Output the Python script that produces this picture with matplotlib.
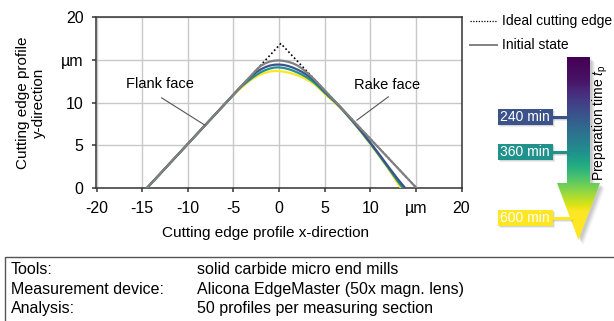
import numpy as np
import matplotlib
matplotlib.use("Agg")
import matplotlib.pyplot as plt
from matplotlib.patches import Polygon, Rectangle
from matplotlib.lines import Line2D

plt.rcParams['font.family'] = ['Liberation Sans', 'DejaVu Sans']
plt.rcParams['mathtext.fontset'] = 'custom'
plt.rcParams['mathtext.rm'] = 'Liberation Sans'
plt.rcParams['mathtext.it'] = 'Liberation Sans:italic'

# ---- profile data (µm) ----
ideal_x = [-14.5, 0.2, 15.1]
ideal_y = [0.0, 16.9, 0.0]

initial_x = [-14.5, -2.5, -2.0, -1.5, -1.0, -0.5, 0.0, 0.5, 1.0, 1.5, 2.0, 2.5, 3.0, 3.5, 4.0, 15.1]
initial_y = [0.0, 13.8, 14.3, 14.6, 14.8, 14.9, 14.93, 14.87, 14.77, 14.6, 14.35, 14.0, 13.55, 13.1, 12.58, 0.0]

t240_x = [-14.5, -4.0, -3.5, -3.0, -2.5, -2.0, -1.5, -1.0, -0.5, 0.0, 0.5, 1.0, 1.5, 2.0, 2.5, 3.0,
          3.5, 4.0, 4.5, 5.0, 5.5, 6.0, 6.5, 7.0, 8.0, 9.0, 10.0, 11.0, 12.0, 13.0, 13.85]
t240_y = [0.0, 12.07, 12.62, 13.1, 13.55, 13.88, 14.15, 14.33, 14.43, 14.45, 14.4, 14.28, 14.1, 13.87,
          13.6, 13.28, 12.9, 12.45, 11.9, 11.33, 10.8, 10.27, 9.72, 9.15, 7.95, 6.7, 5.35, 3.95, 2.5,
          1.1, 0.0]

t360_x = [-14.5, -4.5, -4.0, -3.5, -3.0, -2.5, -2.0, -1.5, -1.0, -0.5, 0.0, 0.5, 1.0, 1.5, 2.0, 2.5,
          3.0, 3.5, 4.0, 4.5, 5.0, 5.5, 6.0, 6.5, 7.0, 8.0, 9.0, 10.0, 11.0, 12.0, 13.0, 13.6]
t360_y = [0.0, 11.5, 11.98, 12.43, 12.85, 13.23, 13.55, 13.8, 13.98, 14.1, 14.12, 14.05, 13.93, 13.75,
          13.53, 13.28, 12.98, 12.63, 12.2, 11.7, 11.17, 10.68, 10.2, 9.68, 9.12, 7.9, 6.62, 5.25,
          3.82, 2.35, 0.85, 0.0]

t600_x = [-14.5, -5.0, -4.5, -4.0, -3.5, -3.0, -2.5, -2.0, -1.5, -1.0, -0.5, 0.0, 0.5, 1.0, 1.5, 2.0,
          2.5, 3.0, 3.5, 4.0, 4.5, 5.0, 5.5, 6.0, 6.5, 7.0, 8.0, 9.0, 10.0, 11.0, 12.0, 13.0, 13.4]
t600_y = [0.0, 10.88, 11.38, 11.86, 12.3, 12.7, 13.03, 13.3, 13.5, 13.63, 13.7, 13.68, 13.62, 13.52,
          13.38, 13.2, 12.99, 12.73, 12.42, 12.03, 11.55, 11.03, 10.55, 10.1, 9.62, 9.08, 7.87, 6.58,
          5.2, 3.75, 2.25, 0.6, 0.0]

x_ticks = [-20, -15, -10, -5, 0, 5, 10, 15, 20]
x_ticklabels = ['-20', '-15', '-10', '-5', '0', '5', '10', 'µm', '20']
y_ticks = [0, 5, 10, 15, 20]
y_ticklabels = ['0', '5', '10', 'µm', '20']

time_labels = ['240 min', '360 min', '600 min']
time_colors = ['#3b528b', '#21918c', '#fde725']
gray = '#808080'
dark = '#333333'

W, H = 614, 321
fig = plt.figure(figsize=(W / 100, H / 100), dpi=100)

ax = fig.add_axes([96.5 / W, 1 - 188.3 / H, 365 / W, 171.3 / H])
ax.set_xlim(-20, 20)
ax.set_ylim(0, 20)
ax.set_xticks(x_ticks)
ax.set_xticklabels(x_ticklabels)
ax.set_yticks(y_ticks)
ax.set_yticklabels(y_ticklabels)
ax.grid(True, color='#c8c8c8', lw=1.0)
ax.set_axisbelow(True)
for s in ax.spines.values():
    s.set_color(dark)
    s.set_linewidth(1.1)
ax.tick_params(direction='out', length=3.2, width=1.1, color=dark, labelsize=11.5,
               labelcolor='black', pad=6)

ax.plot(ideal_x, ideal_y, color='black', lw=1.2, ls=(0, (1, 1.5)), zorder=2)
ax.plot(t600_x, t600_y, color=time_colors[2], lw=1.6, zorder=3)
ax.plot(t360_x, t360_y, color=time_colors[1], lw=1.6, zorder=4)
ax.plot(t240_x, t240_y, color=time_colors[0], lw=1.6, zorder=5)
ax.plot(initial_x, initial_y, color=gray, lw=1.6, zorder=6)

# face annotations
ax.plot([-12.86, -8.13], [10.56, 7.38], color='#555555', lw=0.8, zorder=7)
ax.plot([11.98, 8.54], [10.68, 7.96], color='#555555', lw=0.8, zorder=7)
ax.text(-13.1, 12.15, 'Flank face', ha='center', va='center', fontsize=10.5, zorder=8)
ax.text(11.87, 12.04, 'Rake face', ha='center', va='center', fontsize=10.5, zorder=8)

fig.text(265 / W, 1 - 233 / H, 'Cutting edge profile x-direction', ha='center', va='center',
         fontsize=11)
fig.text(31 / W, 1 - 103 / H, 'Cutting edge profile\ny-direction', ha='center', va='center',
         rotation=90, fontsize=11, linespacing=1.1)

# overlay in pixel coordinates
ov = fig.add_axes([0, 0, 1, 1], zorder=10)
ov.set_xlim(0, W)
ov.set_ylim(H, 0)
ov.axis('off')

# legend
ov.add_line(Line2D([470, 497], [21, 21], color='black', lw=0.9, ls=(0, (1, 1.2))))
ov.add_line(Line2D([470, 497], [45, 45], color=gray, lw=1.4))
ov.text(502, 21, 'Ideal cutting edge', ha='left', va='center', fontsize=10)
ov.text(502, 45, 'Initial state', ha='left', va='center', fontsize=10)

# preparation-time arrow with gradient fill
arrow_pts = [(567, 57), (590, 57), (590, 183), (600, 183), (578.5, 240), (557, 183), (567, 183)]
for k, a in zip(range(1, 5), [0.10, 0.10, 0.08, 0.06]):
    ov.add_patch(Polygon([(x + 1 + k, y + 1 + k) for x, y in arrow_pts], closed=True,
                         fc='#505050', ec='none', alpha=a, zorder=1))
arrow = Polygon(arrow_pts, closed=True, fc='none', ec='none')
ov.add_patch(arrow)
ys = np.linspace(57, 240, 300)
vals = np.interp(ys, [57, 80, 116.7, 151.7, 185, 212, 240], [0.0, 0.05, 0.27, 0.5, 0.78, 1.0, 1.0])
im = ov.imshow(vals[:, None], cmap='viridis', vmin=0, vmax=1, aspect='auto',
               extent=[557, 600, 240, 57], origin='upper', interpolation='bilinear', zorder=3)
im.set_clip_path(arrow)
ov.set_xlim(0, W)
ov.set_ylim(H, 0)

ov.text(600, 123, 'Preparation time $t_\\mathrm{p}$', rotation=90, ha='center', va='center',
        fontsize=10, zorder=6)

# time labels
box_y = [116.5, 151.5, 218]
conn_end = [567, 567, 571]
for lab, col, yc, xe in zip(time_labels, time_colors, box_y, conn_end):
    for k, a in zip(range(1, 3), [0.15, 0.1]):
        ov.add_patch(Rectangle((497.5 + k, yc - 8 + k), 55, 16, fc='#505050', ec='none', alpha=a,
                               zorder=4))
        ov.add_line(Line2D([552, xe], [yc + k, yc + k], color='#505050', lw=2.2, alpha=a, zorder=4))
    ov.add_line(Line2D([552, xe], [yc, yc], color=col, lw=2.2, zorder=5))
    ov.add_patch(Rectangle((497.5, yc - 8), 55, 16, fc=col, ec='none', zorder=5))
    ov.text(525, yc + 0.5, lab, ha='center', va='center', color='white', fontsize=10, zorder=6)

# information table
ov.add_patch(Rectangle((5, 257), 640, 100, fc='none', ec='#555555', lw=1.0))
rows = [('Tools:', 'solid carbide micro end mills'),
        ('Measurement device:', 'Alicona EdgeMaster (50x magn. lens)'),
        ('Analysis:', '50 profiles per measuring section')]
for (a, b), yy in zip(rows, [270, 289.5, 309]):
    ov.text(11, yy, a, ha='left', va='center', fontsize=11.5)
    ov.text(197, yy, b, ha='left', va='center', fontsize=11.5)

fig.savefig('out.png', dpi=100)
